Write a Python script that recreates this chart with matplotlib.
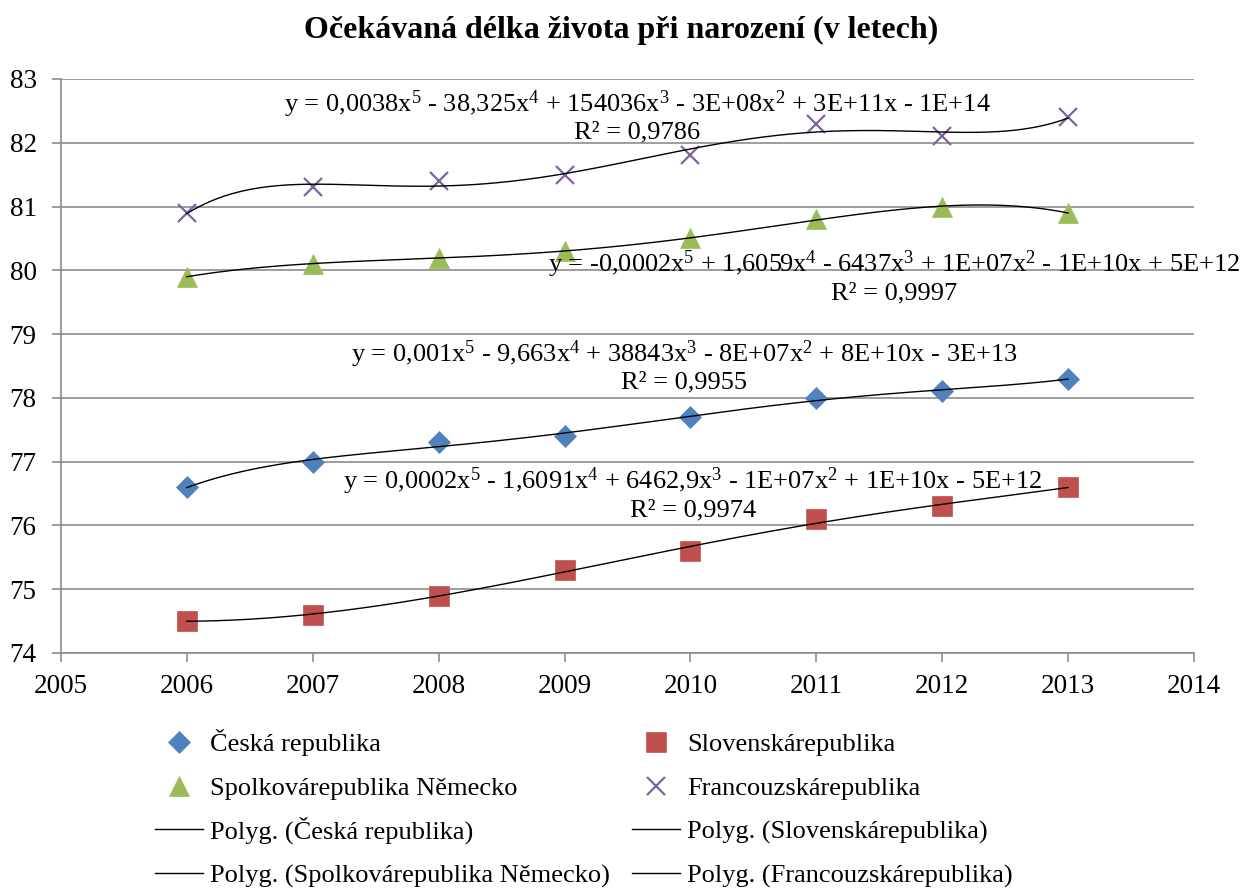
import matplotlib.pyplot as plt
import numpy as np

plt.rcParams['font.family'] = ['Liberation Serif', 'DejaVu Serif']
plt.rcParams['mathtext.fontset'] = 'custom'
plt.rcParams['mathtext.rm'] = 'Liberation Serif'
plt.rcParams['mathtext.it'] = 'Liberation Serif'
plt.rcParams['mathtext.bf'] = 'Liberation Serif:bold'

roky = [2006, 2007, 2008, 2009, 2010, 2011, 2012, 2013]
cesko = [76.6, 77.0, 77.3, 77.4, 77.7, 78.0, 78.1, 78.3]
slovensko = [74.5, 74.6, 74.9, 75.3, 75.6, 76.1, 76.3, 76.6]
nemecko = [79.9, 80.1, 80.2, 80.3, 80.5, 80.8, 81.0, 80.9]
francie = [80.9, 81.3, 81.4, 81.5, 81.8, 82.3, 82.1, 82.4]

nazvy = ['Česká republika', 'Slovenskárepublika',
         'Spolkovárepublika Německo', 'Francouzskárepublika']
rovnice = [
    'y = 0,001x$^5$ - 9,663x$^4$ + 38843x$^3$ - 8E+07x$^2$ + 8E+10x - 3E+13\nR² = 0,9955',
    'y = 0,0002x$^5$ - 1,6091x$^4$ + 6462,9x$^3$ - 1E+07x$^2$ + 1E+10x - 5E+12\nR² = 0,9974',
    'y = -0,0002x$^5$ + 1,6059x$^4$ - 6437x$^3$ + 1E+07x$^2$ - 1E+10x + 5E+12\nR² = 0,9997',
    'y = 0,0038x$^5$ - 38,325x$^4$ + 154036x$^3$ - 3E+08x$^2$ + 3E+11x - 1E+14\nR² = 0,9786',
]
# kde stoji rovnice (v datovych souradnicich)
pozice = [(2009.95, 78.5), (2010.02, 76.5), (2011.62, 79.9), (2009.58, 82.42)]

barvy = ['#4F81BD', '#C0504D', '#9BBB59', '#8064A2']
znacky = ['D', 's', '^', 'x']
velikosti = [11, 15, 15, 13]

fig = plt.figure(figsize=(12.42, 8.89), dpi=100)
ax = fig.add_axes([0.0491, 0.2655, 0.9122, 0.6457])

x = np.array(roky, dtype=float)
xs = np.linspace(2006, 2013, 300)
body = []
trendy = []
for data, nazev, barva, zn, vel, rov, poz in zip(
        [cesko, slovensko, nemecko, francie], nazvy, barvy, znacky, velikosti, rovnice, pozice):
    h, = ax.plot(roky, data, linestyle='none', marker=zn, color=barva,
                 markersize=vel, markeredgewidth=1.6 if zn == 'x' else 0.5, label=nazev, zorder=3)
    body.append(h)
    # polynomicky trend 5. stupne
    koef = np.polyfit(x - 2009.5, data, 5)
    t, = ax.plot(xs, np.polyval(koef, xs - 2009.5), color='black', linewidth=1.0,
                 label='Polyg. (' + nazev + ')', zorder=4)
    trendy.append(t)
    ax.text(poz[0], poz[1], rov, ha='center', va='center', fontsize=19,
            linespacing=1.12, clip_on=False, zorder=5)

ax.set_xlim(2005, 2014)
ax.set_ylim(74, 83)
ax.set_xticks(range(2005, 2015))
ax.set_yticks(range(74, 84))
ax.yaxis.grid(True, color='#8c8c8c', linewidth=1.2)
ax.set_axisbelow(True)
for s in ['top', 'right']:
    ax.spines[s].set_visible(False)
for s in ['left', 'bottom']:
    ax.spines[s].set_color('#8c8c8c')
    ax.spines[s].set_linewidth(1.2)
ax.tick_params(axis='both', labelsize=19.5, color='#8c8c8c', length=6.5, width=1.2)
ax.tick_params(axis='x', pad=9)
ax.tick_params(axis='y', pad=11)

fig.text(0.5, 1 - 30 / 889, 'Očekávaná délka života při narození (v letech)', fontsize=23,
         fontweight='bold', ha='center', va='center')

# legenda: 2 sloupce x 4 radky, kazda polozka zvlast, aby radky sedely
polozky = [body[0], body[1], body[2], body[3], trendy[0], trendy[1], trendy[2], trendy[3]]
sloupce_x = [155, 632]
radky_spodek = [756, 800, 844, 888]
for i, h in enumerate(polozky):
    fig.legend(handles=[h], labels=[h.get_label()],
               loc='lower left', bbox_to_anchor=(sloupce_x[i % 2] / 1242, 1 - radky_spodek[i // 2] / 889),
               frameon=False, fontsize=19, handlelength=1.8, handletextpad=0.3,
               borderpad=0, borderaxespad=0)

fig.savefig('out.png', dpi=100)
